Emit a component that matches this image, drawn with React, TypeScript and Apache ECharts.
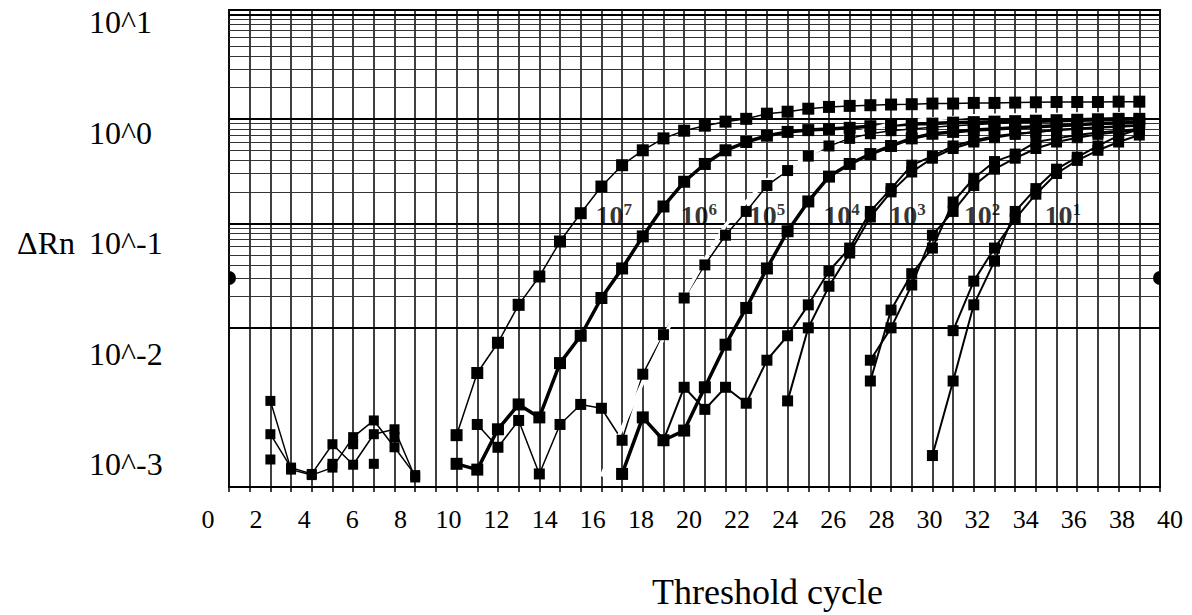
import React, { useEffect, useRef } from "react";
import * as echarts from "echarts";

const SERIF = "'Liberation Serif', 'Times New Roman', 'DejaVu Serif', serif";

// ---- axis texts ----
const xLabelMax = 40;
const xLabelStep = 2;
const yTickLabels = ["10^-3", "10^-2", "10^-1", "10^0", "10^1"];
const xTitle = "Threshold cycle";
const yTitle = "\u0394Rn";

// ---- instrument grid (cycles, log decades) ----
const cycleMax = 45;
const decades = [0.0001, 0.001, 0.01, 0.1, 1, 10];
const mantissas = [2, 3, 4, 5, 6, 7, 8, 9];
const thresholdValue = 0.03;

// ---- amplification curves: first cycle + ΔRn per cycle ----
const r7Start = 11;
const r7 = [0.00094, 0.0037, 0.0072, 0.0166, 0.031, 0.067, 0.125, 0.225, 0.36, 0.5, 0.65, 0.77, 0.86, 0.94, 1.0, 1.12, 1.17, 1.25, 1.3, 1.33, 1.35, 1.37, 1.38, 1.4, 1.4, 1.42, 1.42, 1.43, 1.44, 1.45, 1.45, 1.45, 1.46, 1.46];

const r6Start = 11;
const r6 = [0.0005, 0.00044, 0.00107, 0.00185, 0.00139, 0.0046, 0.0084, 0.0193, 0.037, 0.075, 0.145, 0.25, 0.37, 0.5, 0.6, 0.69, 0.75, 0.78, 0.8, 0.82, 0.85, 0.87, 0.89, 0.9, 0.92, 0.93, 0.94, 0.95, 0.96, 0.97, 0.98, 0.99, 1.0, 1.0];

const r5aStart = 12;
const r5a = [0.00119, 0.00072, 0.0013, 0.0004, 0.00119, 0.00185, 0.0017, 0.00084, 0.0036, 0.0086, 0.0193, 0.04, 0.077, 0.13, 0.23, 0.32, 0.44, 0.55, 0.65, 0.72, 0.77, 0.8, 0.83, 0.86, 0.88, 0.9, 0.92, 0.93, 0.94, 0.95, 0.96, 0.97, 0.98];

const r5bStart = 18;
const r5b = [0.00038, 0.0011, 0.003, 0.008, 0.02, 0.045, 0.096, 0.16, 0.26, 0.33, 0.44, 0.58, 0.7, 0.8, 0.9, 0.96, 1.0, 1.03, 1.07, 1.08, 1.09, 1.1, 1.1, 1.11, 1.11, 1.12, 1.12];

const r4Start = 19;
const r4 = [0.0004, 0.00139, 0.00084, 0.00104, 0.0027, 0.0069, 0.0155, 0.037, 0.084, 0.162, 0.28, 0.37, 0.46, 0.55, 0.65, 0.72, 0.75, 0.78, 0.8, 0.82, 0.84, 0.86, 0.88, 0.9, 0.91, 0.92];

const r3aStart = 21;
const r3a = [0.00084, 0.0027, 0.00166, 0.0027, 0.0019, 0.0049, 0.0084, 0.0166, 0.035, 0.058, 0.13, 0.215, 0.36, 0.44, 0.55, 0.62, 0.68, 0.72, 0.75, 0.78, 0.8, 0.82, 0.84, 0.86];

const r3bStart = 27;
const r3b = [0.002, 0.01, 0.025, 0.052, 0.115, 0.2, 0.31, 0.42, 0.52, 0.6, 0.66, 0.71, 0.75, 0.78, 0.81, 0.83, 0.85, 0.87];

const r2aStart = 31;
const r2a = [0.0031, 0.0148, 0.033, 0.058, 0.16, 0.27, 0.39, 0.46, 0.6, 0.65, 0.7, 0.74, 0.77, 0.8];

const r2bStart = 31;
const r2b = [0.0049, 0.01, 0.0257, 0.077, 0.13, 0.23, 0.33, 0.42, 0.52, 0.6, 0.66, 0.71, 0.75, 0.78];

const r1aStart = 34;
const r1a = [0.0006, 0.0031, 0.0166, 0.0435, 0.13, 0.215, 0.33, 0.43, 0.55, 0.69, 0.8];

const r1bStart = 35;
const r1b = [0.0094, 0.028, 0.058, 0.11, 0.19, 0.3, 0.4, 0.5, 0.6, 0.7];

// background (pre-amplification) readings
const bgAStart = 2;
const bgA = [0.002, 0.00044, 0.00039, 0.00046, 0.0009, 0.0013, 0.00072, 0.00039];
const bgBStart = 2;
const bgB = [0.00096, 0.00046, 0.0004, 0.00077, 0.00049, 0.00096, 0.00107, 0.00037];
const bgCCycles = [2, 5, 6, 7, 8];
const bgC = [0.00055, 0.0005, 0.00077, 0.0005, 0.0009];

// curve labels (copy number)
const labelExps = ["7", "6", "5", "4", "3", "2", "1"];
const labelCycles = [18.6, 22.7, 26.0, 29.6, 32.8, 36.4, 40.3];
const labelLevel = 0.119;

const toPairs = (start: number, vals: number[]) => vals.map((v, i) => [start + i, v]);

export default function App() {
  const ref = useRef<HTMLDivElement>(null);

  useEffect(() => {
    if (!ref.current) return;
    const chart = echarts.init(ref.current, null, { renderer: "svg" });

    const gridLines: any[] = [];
    decades.forEach((d) => {
      gridLines.push({ yAxis: d, lineStyle: { color: "#000", width: 1.8, type: "solid" } });
      mantissas.forEach((m) => {
        gridLines.push({ yAxis: d * m, lineStyle: { color: "#333", width: 1.1, type: "solid" } });
      });
    });

    const curve = (
      name: string,
      start: number,
      vals: number[],
      width: number,
      color = "#000",
      symbolSize = 10
    ) => ({
      name,
      type: "line",
      xAxisIndex: 0,
      yAxisIndex: 0,
      data: toPairs(start, vals),
      symbol: symbolSize > 0 ? "rect" : "none",
      symbolSize,
      showSymbol: symbolSize > 0,
      lineStyle: { color, width, type: "solid" },
      itemStyle: { color, borderWidth: 0, opacity: 1 },
      z: 3,
      clip: true,
    });

    const option: any = {
      animation: false,
      backgroundColor: "#fff",
      grid: [
        { left: 229, top: 10, width: 931, height: 477, show: true, borderColor: "#000", borderWidth: 2, backgroundColor: "transparent" },
        { left: 208, top: 22, width: 962, height: 448, show: false },
      ],
      xAxis: [
        {
          gridIndex: 0,
          type: "value",
          min: 0,
          max: cycleMax,
          interval: 1,
          axisLine: { show: true, lineStyle: { color: "#000", width: 2 } },
          axisTick: { show: true, length: 5, lineStyle: { color: "#000", width: 1.5 } },
          axisLabel: { show: false },
          splitLine: { show: true, lineStyle: { color: "#111", width: 1.6, type: "solid" } },
        },
        {
          gridIndex: 1,
          type: "value",
          min: 0,
          max: xLabelMax,
          interval: xLabelStep,
          axisLine: { show: false },
          axisTick: { show: false },
          splitLine: { show: false },
          axisLabel: { show: true, fontFamily: SERIF, fontSize: 26, color: "#000", margin: 42 },
          name: xTitle,
          nameLocation: "middle",
          nameGap: 110,
          nameTextStyle: { fontFamily: SERIF, fontSize: 36, color: "#000", padding: [0, 0, 0, 157] },
        },
      ],
      yAxis: [
        {
          gridIndex: 0,
          type: "log",
          logBase: 10,
          min: 0.0003,
          max: 11,
          axisLine: { show: false },
          axisTick: { show: false },
          axisLabel: { show: false },
          splitLine: { show: false },
        },
        {
          gridIndex: 1,
          type: "log",
          logBase: 10,
          min: 0.001,
          max: 10,
          axisLine: { show: false },
          axisTick: { show: false },
          splitLine: { show: false },
          axisLabel: {
            show: true,
            align: "left",
            margin: 119,
            fontFamily: SERIF,
            fontSize: 32,
            color: "#000",
            formatter: (v: number) => yTickLabels[Math.round(Math.log10(v)) + 3] ?? "",
          },
          name: yTitle,
          nameLocation: "middle",
          nameRotate: 0,
          nameGap: 133,
          nameTextStyle: { fontFamily: SERIF, fontSize: 32, color: "#000" },
        },
      ],
      series: [
        {
          name: "grid",
          type: "line",
          xAxisIndex: 0,
          yAxisIndex: 0,
          data: [],
          z: 1,
          silent: true,
          markLine: {
            silent: true,
            symbol: ["none", "none"],
            label: { show: false },
            z: 1,
            data: gridLines,
          },
        },
        curve("background A", bgAStart, bgA, 1.5),
        curve("background B", bgBStart, bgB, 1.5),
        {
          name: "background C",
          type: "scatter",
          xAxisIndex: 0,
          yAxisIndex: 0,
          data: bgCCycles.map((c, i) => [c, bgC[i]]),
          symbol: "rect",
          symbolSize: 10,
          itemStyle: { color: "#000", opacity: 1 },
          z: 3,
        },
        curve("10^7", r7Start, r7, 1.5, "#000", 12),
        curve("10^6", r6Start, r6, 3.5, "#000", 12),
        curve("10^5 a", r5aStart, r5a, 1.5, "#000", 11),
        curve("10^5 b", r5bStart, r5b, 3.5, "#fff", 0),
        curve("10^4", r4Start, r4, 3.5, "#000", 12),
        curve("10^3 a", r3aStart, r3a, 2, "#000", 11),
        curve("10^3 b", r3bStart, r3b, 2, "#000", 11),
        curve("10^2 a", r2aStart, r2a, 2, "#000", 11),
        curve("10^2 b", r2bStart, r2b, 2, "#000", 11),
        curve("10^1 a", r1aStart, r1a, 2, "#000", 11),
        curve("10^1 b", r1bStart, r1b, 2, "#000", 11),
        {
          name: "threshold",
          type: "custom",
          xAxisIndex: 0,
          yAxisIndex: 0,
          data: [
            [0, thresholdValue],
            [cycleMax, thresholdValue],
          ],
          z: 4,
          renderItem: (params: any, api: any) => {
            const p = api.coord([api.value(0), api.value(1)]);
            const left = params.dataIndex === 0;
            return {
              type: "sector",
              shape: {
                cx: p[0],
                cy: p[1],
                r0: 0,
                r: 7,
                startAngle: left ? -Math.PI / 2 : Math.PI / 2,
                endAngle: left ? Math.PI / 2 : (3 * Math.PI) / 2,
              },
              style: { fill: "#000" },
            };
          },
        },
        {
          name: "labels",
          type: "scatter",
          xAxisIndex: 0,
          yAxisIndex: 0,
          data: labelCycles.map((c) => [c, labelLevel]),
          symbolSize: 0,
          z: 6,
          label: {
            show: true,
            position: "inside",
            formatter: (p: any) => `{b|10}{s|${labelExps[p.dataIndex]}}`,
            rich: {
              b: { fontFamily: SERIF, fontWeight: "bold", fontSize: 28, color: "#000", verticalAlign: "bottom" },
              s: { fontFamily: SERIF, fontWeight: "bold", fontSize: 17, color: "#000", verticalAlign: "top" },
            },
          },
        },
      ],
    };

    chart.setOption(option);
    return () => chart.dispose();
  }, []);

  return (
    <div
      ref={ref}
      style={{ position: "absolute", left: 0, top: 0, width: 1192, height: 615, background: "#fff" }}
    />
  );
}
